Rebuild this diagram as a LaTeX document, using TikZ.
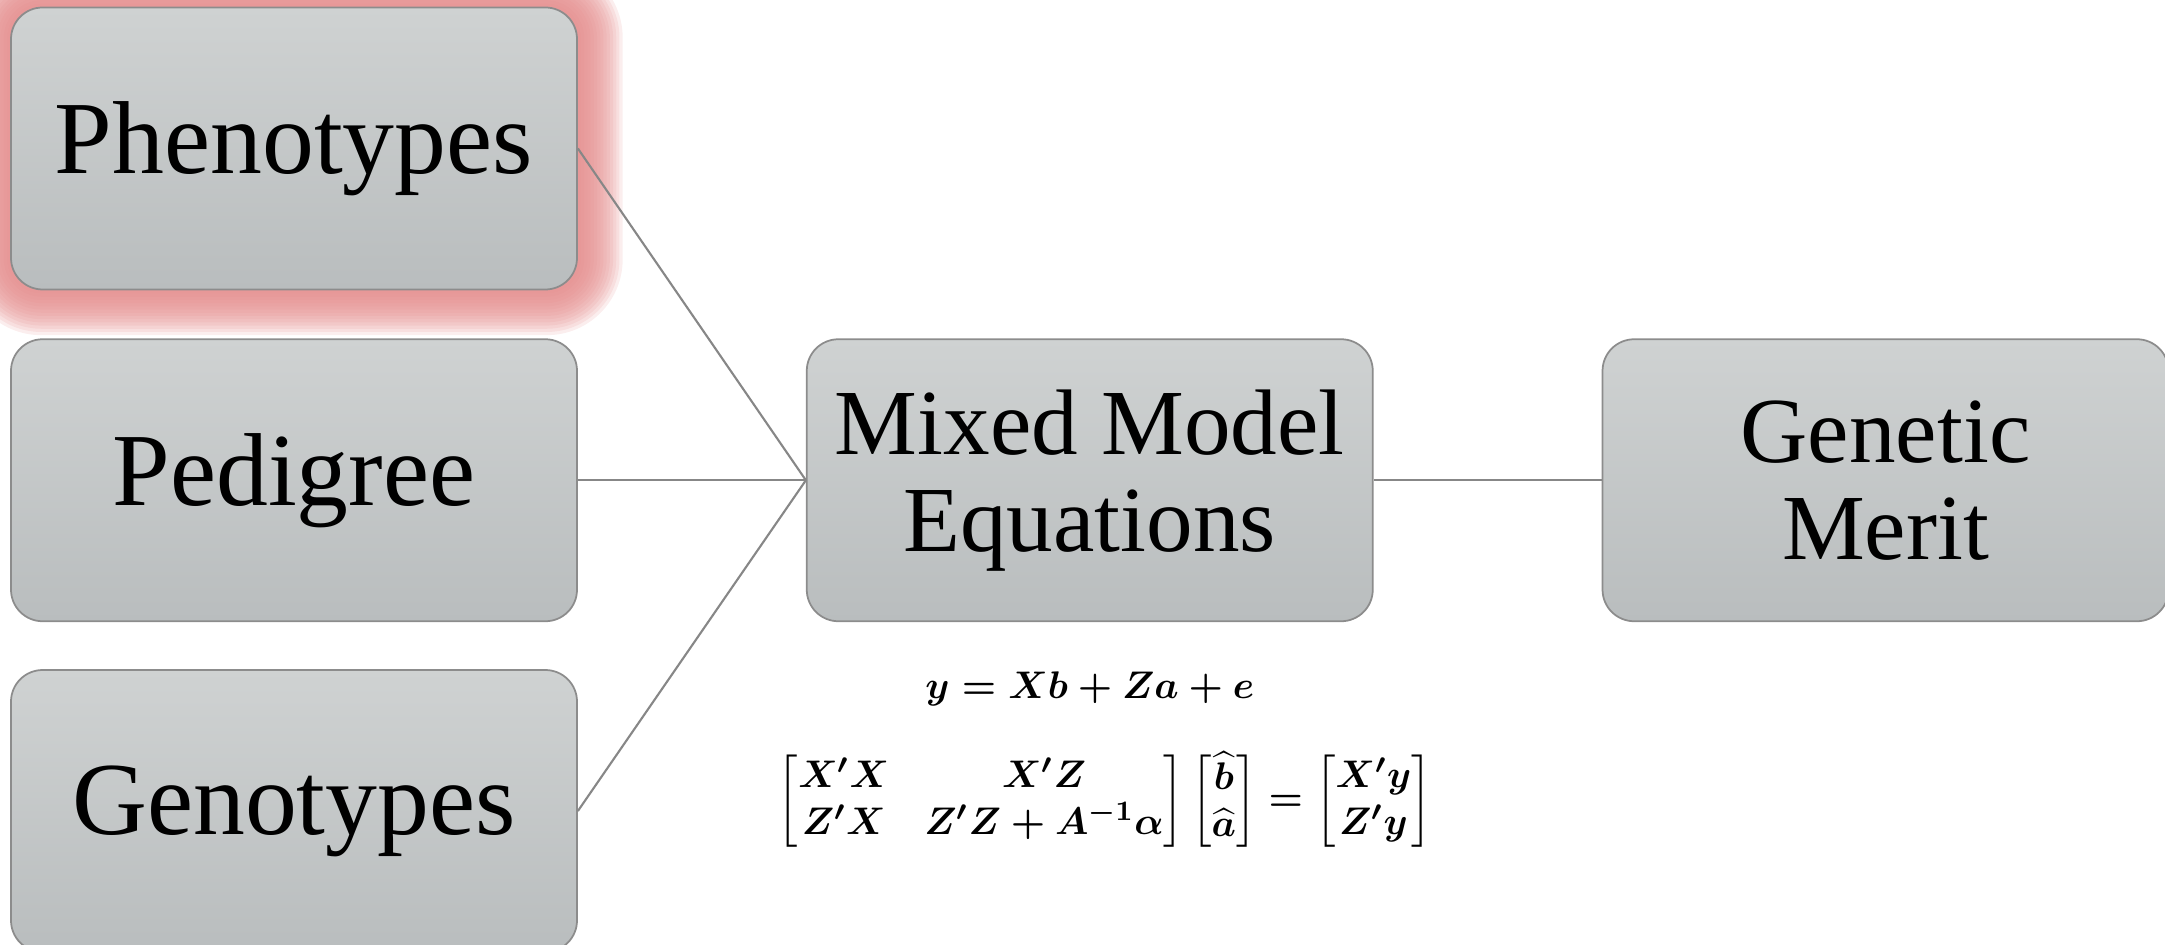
\documentclass[tikz,border=0pt]{standalone}
\usepackage{amsmath}
\usepackage{bm}
\usepackage{fontspec}
\setmainfont{Liberation Serif}
\usepackage{tikz}
\usetikzlibrary{
  positioning,
  calc,
  backgrounds
}
\definecolor{boxTop}{RGB}{207, 210, 210}
\definecolor{boxBottom}{RGB}{185, 189, 190}
\definecolor{boxBorder}{RGB}{140, 140, 140}
\definecolor{linkGray}{RGB}{135, 135, 135}
\definecolor{glowRed}{RGB}{228, 140, 140}

\begin{document}
\begin{tikzpicture}[
    node distance=0.48cm and 2.28cm,
    box/.style={rectangle, draw=boxBorder, line width=0.5pt, rounded corners=9pt, top color=boxTop, bottom color=boxBottom, align=center, minimum width=5.66cm, minimum height=2.82cm, inner sep=4pt},
    one/.style={font=\fontsize{29.5}{34}\selectfont},
    two/.style={font=\fontsize{26.5}{27.6}\selectfont},
    link/.style={draw=linkGray, line width=0.6pt},
    eq/.style={font=\fontsize{11}{13.5}\selectfont\boldmath, inner sep=2pt}
]
    \useasboundingbox (0,0) rectangle (21.65,-9.45);

    % inputs
    \node[box, one] (pheno) at (2.94,-1.485) {Phenotypes};
    \node[box, one, below=of pheno] (pedigree) {Pedigree};
    \node[box, one, below=0.47cm of pedigree] (geno) {Genotypes};

    % model and output
    \node[box, two, right=of pedigree] (mme) {Mixed Model\\Equations};
    \node[box, two, right=of mme] (merit) {Genetic\\Merit};

    % glow round the first box
    \begin{scope}[on background layer]
        \foreach \g in {1,...,14}
            \fill[glowRed, opacity=0.15, rounded corners=9pt+\g*0.9pt]
                ($(pheno.south west)+(-\g*0.032,-\g*0.032)$) rectangle ($(pheno.north east)+(\g*0.032,\g*0.032)$);
    \end{scope}

    \draw[link] (pheno.east) -- (mme.west);
    \draw[link] (pedigree.east) -- (mme.west);
    \draw[link] (geno.east) -- (mme.west);
    \draw[link] (mme.east) -- (merit.west);

    % equations
    \node[eq, below=0.42cm of mme] (model) {$y = Xb + Za + e$};
    \node[eq, below=0.3cm of model, xshift=0.15cm] (normal) {$\begin{bmatrix} X'X & X'Z \\ Z'X & Z'Z + A^{-1}\alpha \end{bmatrix} \begin{bmatrix} \widehat{b} \\ \widehat{a} \end{bmatrix} = \begin{bmatrix} X'y \\ Z'y \end{bmatrix}$};

\end{tikzpicture}
\end{document}
